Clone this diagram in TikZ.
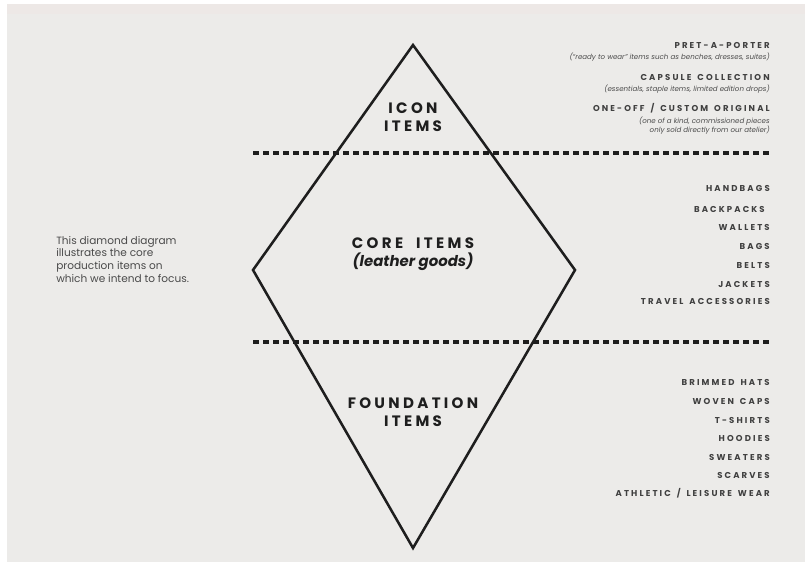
\documentclass[tikz,border=0pt]{standalone}
\usepackage{fontspec}
\setmainfont{Poppins}
\newfontfamily\capsfont[LetterSpace=22,WordSpace=2.0]{Poppins}
\newfontfamily\listfont[LetterSpace=25,WordSpace=1.5]{Poppins}
\definecolor{paper}{HTML}{ECEBE9}
\definecolor{ink}{HTML}{1E1E1E}
\definecolor{note}{HTML}{4A4A4A}
\begin{document}
\begin{tikzpicture}[x=0.75pt, y=-0.75pt,
    edge/.style={ink, line width=1.9pt, line join=miter},
    tierline/.style={ink, line width=2.3pt, dash pattern=on 4.5pt off 3pt},
    tier/.style={font=\capsfont\bfseries\fontsize{11.3}{13.5}\selectfont, text=ink, align=center, inner sep=0pt},
    item/.style={anchor=east, font=\listfont\bfseries\fontsize{6.4}{8}\selectfont, text=ink!85, inner sep=0pt},
    remark/.style={anchor=east, font=\itshape\fontsize{5.3}{6.6}\selectfont, text=ink!80, inner sep=0pt, align=right},
    blurb/.style={anchor=north west, font=\fontsize{7.9}{9.5}\selectfont, text=note, align=left, inner sep=0pt}]

    % paper
    \fill[white] (0,0) rectangle (805,562);
    \fill[paper] (7,4) rectangle (805,562);
    \fill[paper!92!pink] (7,4) rectangle (805,14);
    \useasboundingbox (0,0) rectangle (805,562);

    % diamond
    \coordinate (top) at (413,45);
    \coordinate (left) at (253,270);
    \coordinate (bottom) at (413,548);
    \coordinate (right) at (575,270);
    \draw[edge] (top) -- (right) -- (bottom) -- (left) -- cycle;

    % tier borders
    \coordinate (upA) at (253,153);
    \coordinate (upB) at (772,153);
    \coordinate (loA) at (253,342);
    \coordinate (loB) at (772,342);
    \draw[tierline] (upA) -- (upB);
    \draw[tierline] (loA) -- (loB);

    % tier names
    \node[tier] (icon) at (413,117) {ICON\\[0pt]ITEMS};
    \node[tier] (core) at (413,243) {CORE ITEMS};
    \node[tier, font=\bfseries\itshape\fontsize{11.2}{13}\selectfont] (leather) at (413,262) {(leather goods)};
    \node[tier] (found) at (413,412) {FOUNDATION\\[0pt]ITEMS};

    % icon items
    \node[item] (pret) at (770,45) {PRET-A-PORTER};
    \node[remark] (pretR) at (770,57) {(``ready to wear'' items such as benches, dresses, suites)};
    \node[item] (caps) at (770,77) {CAPSULE COLLECTION};
    \node[remark] (capsR) at (770,89) {(essentials, staple items, limited edition drops)};
    \node[item] (custom) at (770,108) {ONE-OFF / CUSTOM ORIGINAL};
    \node[remark] (customR) at (770,126) {(one of a kind, commissioned pieces\\only sold directly from our atelier)};

    % core items
    \node[item] (hand) at (770,188) {HANDBAGS};
    \node[item] (back) at (765,209) {BACKPACKS};
    \node[item] (wall) at (770,227) {WALLETS};
    \node[item] (bags) at (770,246) {BAGS};
    \node[item] (belt) at (770,265) {BELTS};
    \node[item] (jack) at (770,284) {JACKETS};
    \node[item] (trav) at (770,301) {TRAVEL ACCESSORIES};

    % foundation items
    \node[item] (hats) at (770,382) {BRIMMED HATS};
    \node[item] (woven) at (770,401) {WOVEN CAPS};
    \node[item] (tees) at (770,420) {T-SHIRTS};
    \node[item] (hood) at (770,438) {HOODIES};
    \node[item] (swea) at (770,457) {SWEATERS};
    \node[item] (scar) at (770,475) {SCARVES};
    \node[item] (ath) at (770,493) {ATHLETIC / LEISURE WEAR};

    % side note
    \node[blurb] (note) at (56,236) {This diamond diagram\\illustrates the core\\production items on\\which we intend to focus.};

\end{tikzpicture}
\end{document}
